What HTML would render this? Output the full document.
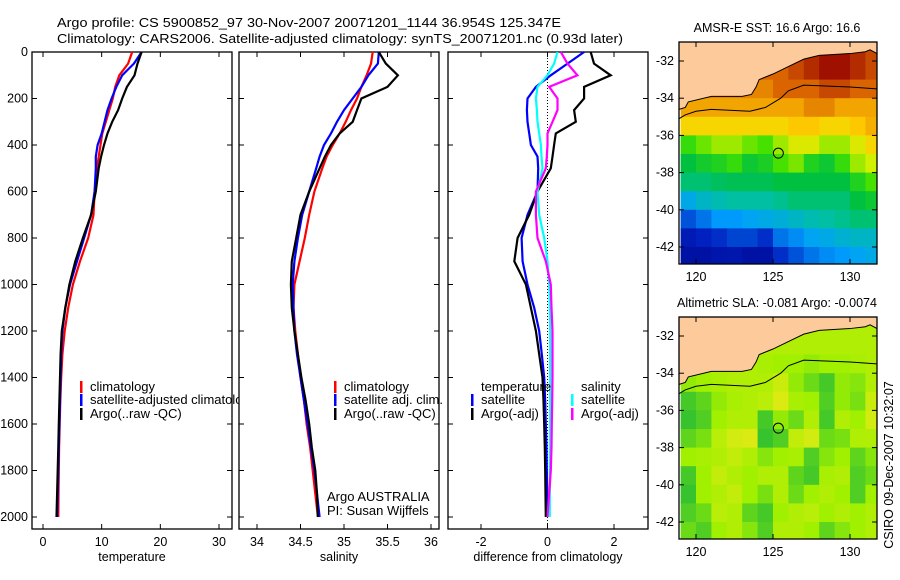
<!DOCTYPE html>
<html><head><meta charset="utf-8">
<style>
body{margin:0;background:#fff;}
svg{display:block;font-family:"Liberation Sans",sans-serif;}
text{fill:#000;}
</style></head>
<body>
<svg id="fig" width="900" height="580" viewBox="0 0 900 580" xmlns="http://www.w3.org/2000/svg">
<text x="57" y="27" font-size="13" textLength="504" lengthAdjust="spacingAndGlyphs">Argo profile: CS 5900852_97 30-Nov-2007 20071201_1144 36.954S 125.347E</text>
<text x="57" y="43" font-size="13" textLength="566" lengthAdjust="spacingAndGlyphs">Climatology: CARS2006. Satellite-adjusted climatology: synTS_20071201.nc (0.93d later)</text>
<text x="777" y="32" font-size="12.5" text-anchor="middle">AMSR-E SST: 16.6 Argo: 16.6</text>
<text x="777" y="307" font-size="12.5" text-anchor="middle" textLength="200" lengthAdjust="spacingAndGlyphs">Altimetric SLA: -0.081  Argo: -0.0074</text>
<text transform="translate(893,465) rotate(-90)" font-size="12.5" text-anchor="middle">CSIRO 09-Dec-2007 10:32:07</text>
<defs><clipPath id="p1clip"><rect x="0" y="0" width="239" height="580"/></clipPath></defs>
<g id="g"></g>
</svg>
<script>
// ---- data ----
const depths = [0,50,100,150,200,250,300,350,400,450,500,600,700,800,900,1000,1100,1200,1300,1400,1500,1600,1700,1800,1900,2000];
const tempClim = [15.2,14.5,13.0,12.3,11.9,11.3,10.7,10.1,9.8,9.5,9.2,8.8,8.6,7.7,6.3,5.1,4.3,3.7,3.3,3.1,2.95,2.85,2.75,2.7,2.65,2.6];
const tempSat = [16.8,15.5,13.5,12.5,11.7,11.0,10.5,10.0,9.3,9.0,9.0,8.8,8.2,7.0,5.8,4.6,3.8,3.3,3.1,3.0,2.9,2.8,2.7,2.6,2.5,2.4];
const tempArgo = [16.8,16.1,15.6,14.3,13.5,12.8,11.8,11.0,10.4,9.9,9.5,9.0,8.2,6.8,5.5,4.5,3.8,3.2,3.0,2.9,2.8,2.7,2.6,2.5,2.4,2.3];
const salClim = [35.33,35.31,35.26,35.2,35.15,35.08,35.02,34.95,34.87,34.8,34.75,34.66,34.6,34.55,34.49,34.43,34.42,34.44,34.47,34.5,34.54,34.57,34.61,34.64,34.67,34.7];
const salSat = [35.4,35.39,35.28,35.2,35.1,35.0,34.92,34.85,34.77,34.72,34.68,34.6,34.52,34.47,34.43,34.41,34.42,34.43,34.46,34.5,34.54,34.58,34.62,34.66,34.69,34.72];
const salArgo = [35.4,35.48,35.62,35.5,35.2,35.15,35.1,34.95,34.85,34.78,34.72,34.6,34.5,34.45,34.4,34.39,34.4,34.43,34.47,34.51,34.56,34.6,34.63,34.67,34.69,34.7];
const dTempSat = [1.1,0.6,0.1,-0.35,-0.6,-0.62,-0.6,-0.55,-0.5,-0.3,-0.28,-0.3,-0.6,-0.78,-0.75,-0.6,-0.4,-0.25,-0.17,-0.1,-0.07,-0.05,-0.03,-0.02,-0.01,0];
const dTempArgo = [1.3,1.4,1.9,1.1,1.1,0.8,0.85,0.25,0.2,0.15,0.1,-0.3,-0.55,-0.9,-1.0,-0.65,-0.5,-0.35,-0.25,-0.15,-0.12,-0.1,-0.08,-0.07,-0.06,-0.05];
const dSalSat = [0.3,0.2,0.0,-0.3,-0.35,-0.32,-0.3,-0.25,-0.2,-0.18,-0.15,-0.3,-0.25,-0.1,0.0,0.05,0.07,0.08,0.08,0.08,0.08,0.08,0.08,0.07,0.07,0.07];
const dSalArgo = [0.4,0.6,0.9,0.05,0.3,0.3,0.15,0.0,0.0,-0.02,-0.05,-0.35,-0.35,-0.3,-0.05,0.1,0.12,0.15,0.15,0.15,0.14,0.13,0.12,0.1,0.05,0.0];
const depthTicks = [0,200,400,600,800,1000,1200,1400,1600,1800,2000];
const tempTicks = [0,10,20,30];
const salTicks = [34,34.5,35,35.5,36];
const salTickLabels = ["34","34.5","35","35.5","36"];
const diffTicks = [-2,0,2];
const lonTicks = [120,125,130];
const latTicks = [-32,-34,-36,-38,-40,-42];
const sstLats = [-31.5,-32.5,-33.5,-34.5,-35.5,-36.5,-37.5,-38.5,-39.5,-40.5,-41.5,-42.5];
const sstLons = [119.5,120.5,121.5,122.5,123.5,124.5,125.5,126.5,127.5,128.5,129.5,130.5,131.5];
const sstGrid = [
[20,20,20,20,20,20,20,20,20.5,21,21,20.5,20],
[19.5,19.5,19.5,19.5,19.5,19.5,19.5,20,20.5,21,21,20.5,20],
[19,19,19,19,19,19,19.5,19.5,19.5,20,20,19.5,19.5],
[18.5,18.5,18.5,18.5,18.5,18.5,18.5,18.5,19,19,18.5,18.5,18.5],
[17.5,17.5,17.5,17.5,17.5,17.5,17.5,17.8,17.8,17.5,17.5,17.8,18.3],
[15.8,16.2,16.5,16.5,16.2,16.0,16.5,17,17,16.5,16.5,17,17.5],
[15.0,15.3,15.5,15.8,15.2,15.4,16,16.3,15.5,15.2,15.8,16.5,16.8],
[14.5,14.5,14.7,14.8,14.8,14.8,15,15,15,15,15,15.5,16],
[13,13.5,13.8,14,14,14,14.2,14.5,14.5,14.5,14.5,15,15.2],
[11.5,12,12.5,12.5,12.8,13,13.2,13.5,13.8,14,14.2,14.5,14.5],
[10.5,10.8,11,11.3,11.3,11,12,12.3,12.8,13,13.3,13.5,13.5],
[10,10,10.2,10.3,10,10,11,11.5,12,12.3,12.5,12.8,13]];
const slaGrid = [
[0.6,0.6,0.6,0.6,0.6,0.6,0.6,0.6,0.6,0.6,0.6,0.6,0.6],
[0.6,0.6,0.6,0.6,0.6,0.6,0.6,0.6,0.6,0.6,0.6,0.6,0.6],
[0.6,0.6,0.6,0.6,0.6,0.55,0.5,0.5,0.45,0.5,0.5,0.55,0.6],
[0.45,0.5,0.55,0.6,0.6,0.6,0.75,0.45,0.3,0.15,0.45,0.4,0.6],
[0.15,0.25,0.45,0.55,0.6,0.65,0.85,0.55,0.5,0.2,0.45,0.35,0.75],
[0.1,0.2,0.5,0.6,0.6,0.15,0.45,0.3,0.6,0.15,0.6,0.5,0.8],
[0.25,0.35,0.65,0.8,0.85,0.1,0.2,0.7,0.8,0.3,0.35,0.6,0.6],
[0.5,0.55,0.6,0.7,0.6,0.4,0.5,0.55,0.2,0.4,0.5,0.25,0.4],
[0.15,0.5,0.7,0.6,0.5,0.6,0.6,0.25,0.15,0.55,0.6,0.2,0.3],
[0.1,0.5,0.6,0.7,0.5,0.35,0.6,0.3,0.5,0.6,0.5,0.2,0.5],
[0.2,0.3,0.65,0.6,0.25,0.15,0.5,0.6,0.65,0.5,0.6,0.5,0.6],
[0.3,0.2,0.5,0.6,0.4,0.2,0.6,0.6,0.5,0.25,0.4,0.5,0.6]];
const coastLon = [118.9,119.3,119.5,121,123,123.6,123.9,124.1,125,126,127,128,130,131,131.3,131.75];
const coastLat = [-34.6,-34.5,-34.2,-33.9,-33.9,-33.8,-33.4,-33.0,-32.7,-32.3,-31.9,-31.7,-31.6,-31.5,-31.4,-31.6];
const isoLon = [118.9,119.3,120,121,123.5,124.5,125.5,126,127,130,131.75];
const isoLat = [-35.1,-34.9,-34.7,-34.6,-34.7,-34.5,-34.0,-33.6,-33.3,-33.4,-33.5];
const argoLon = 125.347, argoLat = -36.954;

// ---- helpers ----
const NS="http://www.w3.org/2000/svg";
const G=document.getElementById('g');
function el(tag,attrs,parent){const e=document.createElementNS(NS,tag);for(const k in attrs)e.setAttribute(k,attrs[k]);(parent||G).appendChild(e);return e;}
const Y0=52, Y1=517;
const yD = d => Y0 + (d/2000)*(Y1-Y0);
const FT=52, FB=529;
function linScale(v0,p0,v1,p1){return v=>p0+(v-v0)*(p1-p0)/(v1-v0);}

function panel(name,x0,x1,xs,ticks,labels,xlabel,showY){
  const fr=el('rect',{x:x0,y:FT,width:x1-x0,height:FB-FT,fill:'none',stroke:'#000','stroke-width':1.3});
  
  
  ticks.forEach((t,i)=>{
    const x=xs(t);
    el('line',{x1:x,x2:x,y1:FT,y2:FT+5,stroke:'#000'});
    el('line',{x1:x,x2:x,y1:FB,y2:FB-5,stroke:'#000'});
    const tx=el('text',{x:x,y:FB+17,'font-size':12.5,'text-anchor':'middle'});
    tx.textContent=labels[i];
    
    
  });
  depthTicks.forEach(d=>{
    const y=yD(d);
    el('line',{x1:x0,x2:x0+5,y1:y,y2:y,stroke:'#000'});
    el('line',{x1:x1,x2:x1-5,y1:y,y2:y,stroke:'#000'});
    if(showY){const t=el('text',{x:x0-4,y:y+4,'font-size':12.5,'text-anchor':'end'});t.textContent=d;
      
      }
  });
  const xl=el('text',{x:(x0+x1)/2,y:FB+32,'font-size':12.5,'text-anchor':'middle'});
  xl.textContent=xlabel;
  
  
}
function series(name,xs,vals,color){
  const pts=vals.map((v,i)=>xs(v).toFixed(1)+','+yD(depths[i]).toFixed(1)).join(' ');
  const p=el('polyline',{points:pts,fill:'none',stroke:color,'stroke-width':2.2,'stroke-linejoin':'miter'});
  
  
}
function legend(name,x,y,label,color,parent){
  if(color){const m=el('rect',{x:x-10,y:y-10,width:2.5,height:12,fill:color},parent);
    
    }
  const t=el('text',{x:x,y:y,'font-size':13},parent);t.textContent=label;
  
  
}

// Panel 1 temperature
const xT=linScale(0,43,30,219);
panel('temperature-panel',32,232,xT,tempTicks,tempTicks.map(String),'temperature',true);
series('temp-climatology-line',xT,tempClim,'#f00');
series('temp-satellite-line',xT,tempSat,'#00f');
series('temp-argo-line',xT,tempArgo,'#000');
const lg1=el('g',{'clip-path':'url(#p1clip)'});


legend('legend-climatology',90,391,'climatology','#f00',lg1);
legend('legend-satellite-adjusted',90,404,'satellite-adjusted climatology','#00f',lg1);
legend('legend-argo',90,418,'Argo(..raw -QC)','#000',lg1);

// Panel 2 salinity
const xS=linScale(34,257,36,431);
panel('salinity-panel',239,439,xS,salTicks,salTickLabels,'salinity',false);
series('sal-climatology-line',xS,salClim,'#f00');
series('sal-satellite-line',xS,salSat,'#00f');
series('sal-argo-line',xS,salArgo,'#000');
legend('legend-sal-climatology',344,391,'climatology','#f00');
legend('legend-sal-satellite',344,404,'satellite adj. clim.','#00f');
legend('legend-sal-argo',344,418,'Argo(..raw -QC)','#000');
legend('argo-australia-label',327,501,'Argo AUSTRALIA',null);
legend('pi-label',327,515,'PI: Susan Wijffels',null);

// Panel 3 difference
const xDf=linScale(-2,481,2,614);
panel('difference-panel',448,648,xDf,diffTicks,['-2','0','2'],'difference from climatology',false);
el('line',{x1:xDf(0),x2:xDf(0),y1:FT,y2:FB,stroke:'#000','stroke-dasharray':'1,2'});
series('diff-temp-satellite-line',xDf,dTempSat,'#00f');
series('diff-temp-argo-line',xDf,dTempArgo,'#000');
series('diff-sal-satellite-line',xDf,dSalSat,'#0ff');
series('diff-sal-argo-line',xDf,dSalArgo,'#f0f');
legend('legend-diff-temperature',481,391,'temperature',null);
legend('legend-diff-temp-satellite',481,404,'satellite','#00f');
legend('legend-diff-temp-argo',481,418,'Argo(-adj)','#000');
legend('legend-diff-salinity',581,391,'salinity',null);
legend('legend-diff-sal-satellite',581,404,'satellite','#0ff');
legend('legend-diff-sal-argo',581,418,'Argo(-adj)','#f0f');

// maps
const sstStops=[[0,[0,0,128]],[0.15,[0,32,192]],[0.3,[0,160,255]],[0.42,[0,192,160]],[0.5,[0,192,64]],[0.58,[64,224,0]],[0.65,[208,240,0]],[0.72,[255,208,0]],[0.8,[240,160,0]],[0.88,[216,96,0]],[1,[160,16,0]]];
function sstCol(t){t=Math.max(0,Math.min(1,t));
  for(let i=1;i<sstStops.length;i++){if(t<=sstStops[i][0]){const [t0,c0]=sstStops[i-1],[t1,c1]=sstStops[i];const u=(t-t0)/(t1-t0);
    return `rgb(${c0.map((v,k)=>Math.round(v+(c1[k]-v)*u)).join(',')})`;}}
  return 'rgb(160,16,0)';}
function slaCol(t){const a=[28,184,58],m=[160,240,0],c=[244,232,26];
  let s,e,u; if(t<0.5){s=a;e=m;u=t/0.5;}else{s=m;e=c;u=(t-0.5)/0.5;}
  return `rgb(${s.map((v,i)=>Math.round(v+(e[i]-v)*u)).join(',')})`;}
function map(name,top,grid,colFn){
  const L=679,R=877,B=top+222;
  const lat0y=top+19;
  const mx=linScale(120,696,125,773);
  const my=linScale(-32,lat0y,-42,lat0y+186);
  const clipId=name+'-clip';
  const cp=el('clipPath',{id:clipId});el('rect',{x:L,y:top,width:R-L,height:B-top},cp);
  const g=el('g',{'clip-path':`url(#${clipId})`});
  
  
  sstLats.forEach((la,i)=>sstLons.forEach((lo,j)=>{
    const x=mx(lo-0.5),y=my(la+0.5);
    const c=el('rect',{x:x,y:y,width:mx(lo+0.5)-x+0.5,height:my(la-0.5)-y+0.5,fill:colFn(grid[i][j])},g);
    
    
  }));
  let pts=coastLon.map((lo,i)=>mx(lo)+','+my(coastLat[i])).join(' ');
  pts+=` ${R+2},${top-2} ${L-2},${top-2}`;
  const land=el('polygon',{points:pts,fill:'#fdca9b',stroke:'#000','stroke-width':1},g);
  
  
  const iso=el('polyline',{points:isoLon.map((lo,i)=>mx(lo)+','+my(isoLat[i])).join(' '),fill:'none',stroke:'#000','stroke-width':1},g);
  
  
  const fr=el('rect',{x:L,y:top,width:R-L,height:B-top,fill:'none',stroke:'#000','stroke-width':1.3});
  
  
  lonTicks.forEach(lo=>{const x=mx(lo);
    el('line',{x1:x,x2:x,y1:top,y2:top+5,stroke:'#000'});el('line',{x1:x,x2:x,y1:B,y2:B-5,stroke:'#000'});
    const t=el('text',{x:x,y:B+17,'font-size':12.5,'text-anchor':'middle'});t.textContent=lo;
    
    });
  latTicks.forEach(la=>{const y=my(la);
    el('line',{x1:L,x2:L+5,y1:y,y2:y,stroke:'#000'});el('line',{x1:R,x2:R-5,y1:y,y2:y,stroke:'#000'});
    const t=el('text',{x:L-5,y:y+4,'font-size':12.5,'text-anchor':'end'});t.textContent=la;
    
    });
  const c=el('circle',{cx:mx(argoLon),cy:my(argoLat),r:5,fill:'none',stroke:'#000','stroke-width':1});
  
  
}
map('sst-map',42,sstGrid,v=>sstCol((v-9)/12));
map('sla-map',317,slaGrid,slaCol);
</script>
</body></html>
